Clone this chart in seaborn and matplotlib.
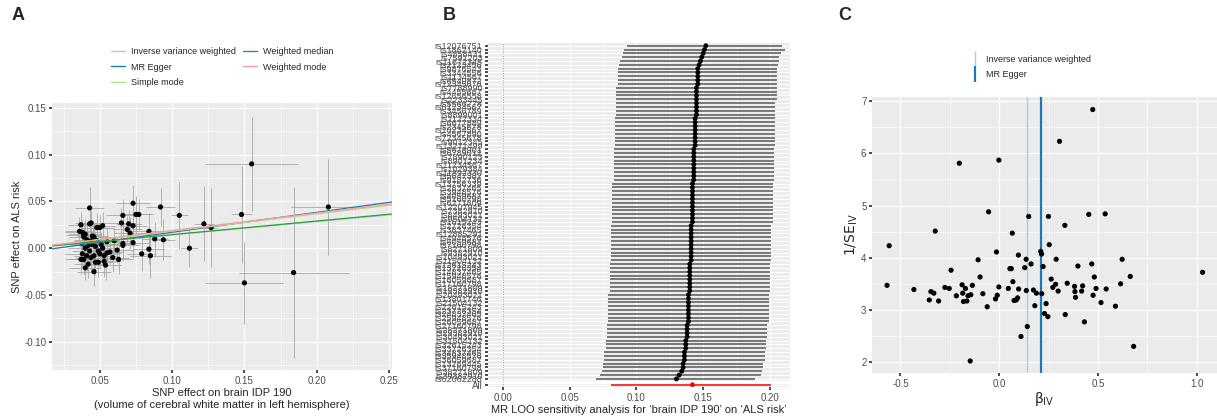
import numpy as np
import pandas as pd
import matplotlib
matplotlib.use("Agg")
import matplotlib.pyplot as plt
from matplotlib.lines import Line2D
from matplotlib.ticker import AutoMinorLocator
import seaborn as sns

# ---------------- Panel A data ----------------
a_x = [0.155,0.148,0.150,0.184,0.208,0.122,0.127,0.112,0.105,0.092,0.094,0.088,0.084,0.084,0.085,0.079,0.077,0.075,
       0.073,0.073,0.073,0.070,0.069,0.071,0.066,0.065,0.066,0.066,0.062,0.063,0.059,0.057,0.055,0.054,0.053,0.052,
       0.050,0.048,0.046,0.047,0.049,0.050,0.046,0.045,0.044,0.043,0.043,0.042,0.040,0.039,0.038,0.037,0.036,0.037,
       0.038,0.039,0.040,0.041,0.040,0.042,0.044,0.046,0.048,0.051,0.041,0.044,0.052,0.055,0.060,0.038,0.043,0.047,
       0.053,0.039,0.045,0.049]
a_y = [0.090,0.036,-0.037,-0.026,0.044,0.026,0.022,0.000,0.035,0.044,0.009,0.010,0.018,-0.001,-0.008,-0.006,0.036,0.036,
       0.048,0.024,0.006,0.026,0.020,0.016,0.035,0.027,0.005,0.003,-0.002,-0.012,-0.010,-0.004,-0.005,-0.018,-0.014,0.024,
       0.022,0.022,-0.025,-0.015,-0.015,-0.006,-0.008,0.004,0.027,0.026,0.043,0.003,0.015,0.012,0.017,0.025,0.018,-0.012,
       -0.006,-0.012,-0.021,-0.008,0.000,-0.017,-0.010,0.012,0.008,0.004,0.009,0.008,0.000,0.007,0.008,0.005,-0.003,0.002,
       -0.008,0.014,0.013,-0.003]
a_sx = [0.032,0.007,0.027,0.038,0.026,0.007,0.004,0.006,0.006,0.010,0.008,0.009,0.012,0.011,0.014,0.010,0.009,0.012,
        0.012,0.010,0.011,0.009,0.010,0.011,0.012,0.010,0.009,0.011,0.012,0.010,0.011,0.009,0.010,0.011,0.012,0.009,
        0.010,0.011,0.012,0.010,0.011,0.013,0.012,0.010,0.011,0.009,0.010,0.012,0.011,0.010,0.012,0.009,0.010,0.011,
        0.012,0.010,0.011,0.009,0.012,0.010,0.011,0.012,0.010,0.011,0.009,0.012,0.010,0.011,0.013,0.010,0.012,0.011,
        0.010,0.012,0.011,0.010]
a_sy = [0.050,0.052,0.044,0.091,0.051,0.040,0.042,0.020,0.036,0.020,0.022,0.018,0.020,0.016,0.024,0.018,0.017,0.020,
        0.020,0.018,0.016,0.015,0.014,0.017,0.018,0.016,0.015,0.017,0.014,0.016,0.015,0.013,0.014,0.016,0.017,0.015,
        0.014,0.016,0.015,0.014,0.016,0.015,0.017,0.014,0.013,0.015,0.022,0.014,0.016,0.015,0.013,0.014,0.015,0.016,
        0.014,0.015,0.013,0.016,0.014,0.015,0.016,0.014,0.015,0.013,0.016,0.014,0.015,0.016,0.014,0.015,0.013,0.016,
        0.015,0.014,0.016,0.015]
methods = ["Inverse variance weighted", "MR Egger", "Simple mode", "Weighted median", "Weighted mode"]
slopes = [0.142, 0.213, 0.183, 0.145, 0.188]
intercepts = [0.0, -0.0043, 0.0, 0.0, 0.0]
m_colors = ["#a6cee3", "#1f78b4", "#b2df8a", "#33a02c", "#fb9a99"]

# ---------------- Panel B data ----------------
b_est = [0.152,0.151,0.150,0.149,0.148,0.147,0.146,0.146,0.146,0.146,
         0.146,0.145,0.145,0.145,0.145,0.145,0.145,0.145,0.145,0.144,
         0.144,0.144,0.144,0.144,0.144,0.144,0.144,0.143,0.143,0.143,
         0.143,0.143,0.143,0.143,0.143,0.143,0.142,0.142,0.142,0.142,
         0.142,0.142,0.142,0.142,0.142,0.142,0.142,0.141,0.141,0.141,
         0.141,0.141,0.141,0.141,0.141,0.141,0.141,0.140,0.140,0.140,
         0.140,0.140,0.140,0.140,0.140,0.139,0.139,0.139,0.139,0.139,
         0.139,0.139,0.139,0.138,0.138,0.138,0.138,0.137,0.137,0.137,
         0.136,0.136,0.136,0.135,0.135,0.134,0.132,0.130]
b_lo = [0.093,0.091,0.090,0.089,0.088,0.087,0.086,0.086,0.086,0.086,
        0.086,0.085,0.085,0.085,0.085,0.085,0.085,0.085,0.085,0.084,
        0.084,0.084,0.084,0.084,0.084,0.084,0.084,0.083,0.083,0.083,
        0.083,0.083,0.083,0.083,0.083,0.083,0.082,0.082,0.082,0.082,
        0.082,0.082,0.082,0.082,0.082,0.082,0.082,0.081,0.081,0.081,
        0.081,0.081,0.081,0.081,0.081,0.081,0.081,0.080,0.080,0.080,
        0.080,0.080,0.080,0.080,0.080,0.079,0.079,0.079,0.079,0.079,
        0.079,0.079,0.079,0.078,0.078,0.078,0.078,0.077,0.077,0.077,
        0.076,0.076,0.076,0.075,0.075,0.074,0.073,0.070]
b_hi = [0.209,0.211,0.208,0.207,0.207,0.206,0.205,0.205,0.205,0.205,
        0.205,0.205,0.205,0.205,0.205,0.204,0.204,0.204,0.204,0.204,
        0.204,0.204,0.204,0.204,0.204,0.204,0.204,0.203,0.203,0.203,
        0.203,0.203,0.203,0.203,0.203,0.203,0.202,0.202,0.202,0.202,
        0.202,0.202,0.202,0.202,0.202,0.202,0.202,0.201,0.201,0.201,
        0.201,0.201,0.201,0.201,0.201,0.201,0.201,0.200,0.200,0.200,
        0.200,0.200,0.200,0.200,0.200,0.199,0.199,0.199,0.199,0.199,
        0.199,0.199,0.199,0.198,0.198,0.198,0.198,0.197,0.197,0.197,
        0.196,0.196,0.196,0.195,0.195,0.194,0.193,0.189]
b_snps = ["rs12076751","rs1862140","rs4858431","rs7591203","rs11672345","rs2123456","rs9876543","rs3344556",
          "rs1134567","rs6549872","rs12345678","rs7788990","rs4455667","rs12656558","rs2233445","rs5566778",
          "rs61234567","rs3456789","rs8899001","rs1122334","rs6677889","rs2345678","rs10234567","rs4567890",
          "rs72345678","rs9012345","rs13271499","rs5678901","rs6789012","rs7890123","rs8901234","rs11234567",
          "rs1029384","rs11892330","rs5647382","rs9182736","rs13756339","rs2837465","rs3948576","rs4059687",
          "rs5160798","rs6271809","rs12207945","rs7382910","rs8493021","rs9504132","rs1615243","rs2726354",
          "rs3837465","rs12885291","rs4948576","rs6059687","rs7160798","rs8271809","rs9382910","rs10493021",
          "rs11504132","rs12615243","rs13726354","rs14837465","rs15948576","rs16059687","rs17160798","rs18271809",
          "rs19382910","rs20493021","rs13801746","rs21504132","rs22615243","rs23726354","rs24837465","rs25948576",
          "rs26059687","rs27160798","rs28271809","rs29382910","rs30493021","rs31504132","rs32615243","rs33726354",
          "rs34837465","rs35948576","rs36059687","rs13269445","rs37160798","rs38271809","rs39382910","rs62062288"]
b_all = (0.142, 0.081, 0.201)

# ---------------- Panel C data ----------------
c_beta = [-0.568,-0.557,-0.432,-0.354,-0.346,-0.331,-0.324,-0.307,-0.275,-0.253,-0.244,-0.217,-0.202,-0.188,-0.185,
          -0.181,-0.171,-0.164,-0.158,-0.147,-0.144,-0.136,-0.107,-0.097,-0.083,-0.061,-0.054,-0.019,-0.014,-0.010,
          -0.002,-0.002,0.046,0.054,0.061,0.066,0.069,0.075,0.086,0.093,0.097,0.098,0.110,0.129,0.136,0.137,0.142,
          0.149,0.161,0.173,0.180,0.188,0.210,0.214,0.215,0.222,0.229,0.237,0.246,0.249,0.253,0.263,0.271,0.285,
          0.288,0.298,0.305,0.332,0.334,0.344,0.381,0.383,0.386,0.398,0.417,0.422,0.431,0.453,0.468,0.473,0.475,
          0.481,0.490,0.515,0.536,0.541,0.588,0.614,0.622,0.663,0.680,1.029]
c_inv = [3.47,4.23,3.39,3.19,3.35,3.32,4.51,3.17,3.43,3.41,3.76,3.27,5.81,3.48,3.32,3.16,3.41,3.17,3.27,2.02,3.29,
         3.47,3.96,3.63,3.31,3.06,4.88,3.21,4.11,3.28,5.87,3.44,3.41,3.79,3.79,4.47,3.54,3.18,3.19,3.23,4.05,3.40,
         2.49,3.81,3.97,3.37,2.68,4.79,3.88,3.38,3.08,3.32,4.12,4.07,3.31,3.83,2.93,3.12,2.87,4.79,4.25,3.59,3.43,
         3.49,3.97,3.36,6.23,4.62,2.91,3.51,3.45,3.35,3.24,3.84,3.36,3.46,2.77,4.83,3.88,6.84,3.28,3.63,3.41,3.14,
         4.84,3.40,3.07,3.50,3.97,3.64,2.30,3.72]
c_methods = ["Inverse variance weighted", "MR Egger"]
c_vals = [0.142, 0.213]

# ---------------- styling ----------------
sns.set_theme(style="darkgrid")
plt.rcParams['font.family'] = ['Liberation Sans', 'DejaVu Sans']
GREY = "#EBEBEB"

def gg(ax):
    ax.set_facecolor(GREY)
    ax.xaxis.set_minor_locator(AutoMinorLocator(2))
    ax.yaxis.set_minor_locator(AutoMinorLocator(2))
    ax.grid(which="major", color="white", linewidth=0.9)
    ax.grid(which="minor", color="white", linewidth=0.45)
    for s in ax.spines.values():
        s.set_visible(False)
    ax.tick_params(axis="both", which="major", labelsize=7, labelcolor="#4d4d4d",
                   length=2, color="#333333", left=True, bottom=True, pad=2)
    ax.tick_params(which="minor", length=0)

fig = plt.figure(figsize=(12.17, 4.17), dpi=100)
W, H = 1217, 417
def rect(x0, y0, x1, y1):
    return [x0 / W, 1 - y1 / H, (x1 - x0) / W, (y1 - y0) / H]

# ---- Panel A ----
axA = fig.add_axes(rect(52, 103, 392, 370))
gg(axA)
axA.errorbar(a_x, a_y, xerr=a_sx, yerr=a_sy, fmt="none", ecolor="#a8a8a8", elinewidth=0.6, zorder=2)
sns.scatterplot(x=a_x, y=a_y, ax=axA, color="black", s=14, edgecolor="none", zorder=3)
xl = np.array([0.017, 0.252])
for m, sl, ic, c in zip(methods, slopes, intercepts, m_colors):
    sns.lineplot(x=xl, y=ic + sl * xl, ax=axA, color=c, linewidth=0.9, zorder=4)
axA.set_xlim(0.017, 0.252)
axA.set_ylim(-0.130, 0.155)
axA.set_xticks([0.05, 0.10, 0.15, 0.20, 0.25])
axA.set_xticklabels(["0.05", "0.10", "0.15", "0.20", "0.25"])
axA.set_yticks([-0.10, -0.05, 0.00, 0.05, 0.10, 0.15])
axA.set_yticklabels(["-0.10", "-0.05", "0.00", "0.05", "0.10", "0.15"])
axA.set_xlabel("SNP effect on brain IDP 190\n(volume of cerebral white matter in left hemisphere)", fontsize=8, labelpad=2)
axA.set_ylabel("SNP effect on ALS risk", fontsize=8, labelpad=2)
handles = [Line2D([], [], color=c, lw=1) for c in m_colors]
legA = fig.legend(handles, methods, ncol=2,
                  loc="center", bbox_to_anchor=(222 / W, 1 - 67 / H), frameon=False,
                  fontsize=6.5, handlelength=1.6, columnspacing=0.8, labelspacing=0.7, handletextpad=0.6)

# ---- Panel B ----
axB = fig.add_axes(rect(488, 43, 790, 387))
gg(axB)
n = len(b_est)
pos = [n + 0.5 - i for i in range(n)]
axB.hlines(pos, b_lo, b_hi, color="#555555", linewidth=1.1, zorder=2)
sns.scatterplot(x=b_est, y=pos, ax=axB, color="black", s=12, edgecolor="none", zorder=3)
axB.hlines([0], [b_all[1]], [b_all[2]], color="red", linewidth=1.1, zorder=2)
sns.scatterplot(x=[b_all[0]], y=[0], ax=axB, color="red", s=12, edgecolor="none", zorder=3)
axB.axhline(0.75, color="white", linewidth=2.5, zorder=1)
axB.axvline(0, color="#999999", linestyle=(0, (1, 1.5)), linewidth=0.7, zorder=1)
axB.set_yticks([0] + pos)
axB.set_yticklabels(["All"] + b_snps)
axB.tick_params(axis="y", labelsize=7, length=2)
for lab in axB.get_yticklabels()[1:]:
    lab.set_fontsize(6.5)
axB.set_ylim(-0.6, n + 1.2)
axB.set_xlim(-0.011, 0.215)
axB.set_xticks([0.0, 0.05, 0.10, 0.15, 0.20])
axB.set_xticklabels(["0.00", "0.05", "0.10", "0.15", "0.20"])
axB.yaxis.set_minor_locator(matplotlib.ticker.NullLocator())
axB.set_xlabel("MR LOO sensitivity analysis for \u2018brain IDP 190\u2019 on \u2018ALS risk\u2019", fontsize=8, labelpad=2)

# ---- Panel C ----
axC = fig.add_axes(rect(872, 97, 1217, 373))
gg(axC)
sns.scatterplot(x=c_beta, y=c_inv, ax=axC, color="black", s=14, edgecolor="none", zorder=3)
c_colors = ["#a6cee3", "#1f78b4"]
c_widths = [1.0, 1.6]
for v, c, lw in zip(c_vals, c_colors, c_widths):
    axC.axvline(v, color=c, linewidth=lw, zorder=2)
axC.set_xlim(-0.644, 1.102)
axC.set_ylim(1.79, 7.08)
axC.set_xticks([-0.5, 0.0, 0.5, 1.0])
axC.set_xticklabels(["-0.5", "0.0", "0.5", "1.0"])
axC.set_yticks([2, 3, 4, 5, 6, 7])
axC.set_xlabel(r"$\mathrm{\beta_{IV}}$", fontsize=10, labelpad=1)
axC.set_ylabel(r"$\mathrm{1/SE_{IV}}$", fontsize=10, labelpad=1)
hC = [Line2D([], [], color=c, lw=1, marker="|", markersize=12, markeredgewidth=lw, linestyle="none")
      for c, lw in zip(c_colors, c_widths)]
fig.legend(hC, c_methods, loc="center", bbox_to_anchor=(1030 / W, 1 - 67 / H), frameon=False,
           fontsize=6.5, handlelength=1.2, labelspacing=0.7, handletextpad=0.6)

# panel letters
for lab, x in [("A", 12), ("B", 443), ("C", 838)]:
    fig.text(x / W, 1 - 16 / H, lab, fontsize=13, fontweight="bold", va="center")

fig.savefig("out.png", dpi=100)
